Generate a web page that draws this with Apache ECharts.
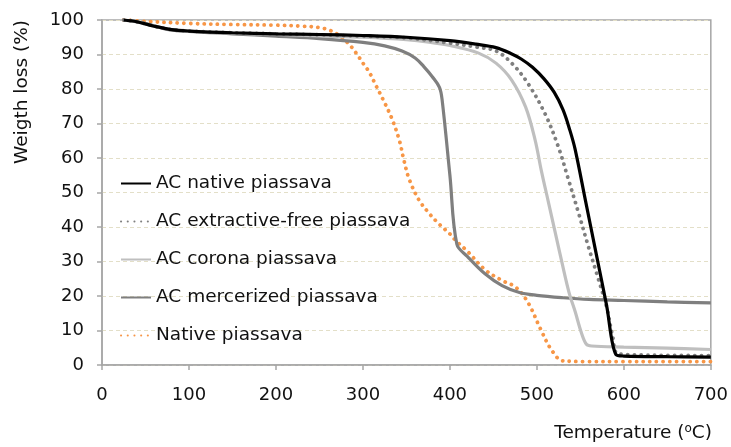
<!DOCTYPE html>
<html>
<head>
<meta charset="utf-8">
<script src="https://cdn.jsdelivr.net/npm/echarts@6/dist/echarts.min.js"></script>
<style>html,body{margin:0;padding:0;background:#fff;}#c{width:731px;height:447px;}</style>
</head>
<body>
<div id="c"></div>
<script>
const seriesNames = ['AC native piassava','AC extractive-free piassava','AC corona piassava','AC mercerized piassava','Native piassava'];
const xTicks = [0,100,200,300,400,500,600,700];
const yTicks = [0,10,20,30,40,50,60,70,80,90,100];

const acNative = [[25,100],[40,99.5],[60,98.2],[80,97.2],[100,96.8],[150,96.3],[200,96],[250,95.8],[300,95.5],[350,95],[400,94],[430,93],[453,92],[470,90.3],[482,88.7],[495,86.3],[508,83],[520,79],[530,74],[538,68],[544,62.5],[556,47.5],[568,32.5],[580,17.5],[591,3],[600,2.6],[650,2.4],[700,2.3]];
const acExtractiveFree = [[25,100],[40,99.5],[60,98.2],[80,97.2],[100,96.8],[150,96.3],[200,96],[250,95.7],[300,95.3],[350,94.8],[400,93.3],[430,92.2],[453,91],[471,87.5],[490,81.5],[510,72.5],[525,63],[536,54],[548,44],[559,34.5],[570,25.5],[580,17],[587,8.5],[593,3.3],[620,2.9],[650,2.8],[700,2.7]];
const acCorona = [[25,100],[40,99.5],[60,98.2],[80,97.2],[100,96.7],[150,96.2],[200,95.8],[250,95.4],[300,95],[350,94.3],[376,93.6],[400,92.6],[433,90.4],[453,87.5],[471,82.6],[487,74.8],[498,65.2],[505,56.5],[513,47.5],[521,38.5],[529,29.5],[537,21],[544,15.5],[551,9.5],[557,6],[563,5.5],[600,5.2],[650,4.9],[700,4.5]];
const acMercerized = [[25,100],[50,99],[75,97.3],[100,96.7],[150,96],[200,95.3],[250,94.6],[300,93.5],[325,92.5],[345,91],[360,89],[370,86.5],[380,83.5],[388,80.5],[391,77],[400,55],[408,35],[420,31.5],[440,26.5],[460,23],[480,21],[500,20.2],[530,19.5],[560,19],[600,18.7],[650,18.3],[700,18]];
const nativePiassava = [[25,100],[50,99.6],[100,99],[150,98.7],[200,98.5],[230,98.2],[250,97.8],[262,97],[273,95.5],[284,93],[292,90.5],[300,87.5],[307,85],[315,81],[325,76],[334,71],[342,65],[347,59.5],[353,54],[364,48],[376,44],[387,41],[400,38],[407,36],[420,33],[441,27.5],[460,24.5],[476,22.5],[490,18],[505,10],[517,4.3],[530,1.2],[560,1],[600,1],[650,1],[700,1]];

const seriesData = [acNative, acExtractiveFree, acCorona, acMercerized, nativePiassava];
const colors = ['#000000','#7f7f7f','#bfbfbf','#7f7f7f','#f79646'];
const dotted = [false,true,false,false,true];

const chart = echarts.init(document.getElementById('c'), null, {renderer:'canvas'});
const font = '"DejaVu Sans", sans-serif';

chart.setOption({
  animation: false,
  grid: {left:102, right:19, top:20, bottom:82, show:true, borderColor:'#a6a6a6', borderWidth:1.5},
  legend: {
    orient:'vertical', left:115, top:169, itemWidth:30, itemHeight:14, itemGap:19,
    data: seriesNames,
    itemStyle:{opacity:0},
    textStyle:{fontFamily:font, fontSize:18.5, color:'#111'}
  },
  xAxis: {
    type:'value', min:0, max:700, interval:100,
    axisLine:{show:true, lineStyle:{color:'#a6a6a6', width:1.5}},
    axisTick:{show:true, length:5, lineStyle:{color:'#a6a6a6', width:1.5}},
    axisLabel:{fontFamily:font, fontSize:18, color:'#111', margin:21,
      formatter: v => xTicks.includes(v) ? String(v) : ''},
    splitLine:{show:false}
  },
  yAxis: {
    type:'value', min:0, max:100, interval:10,
    axisLine:{show:true, lineStyle:{color:'#a6a6a6', width:1.5}},
    axisTick:{show:true, length:5, lineStyle:{color:'#a6a6a6', width:1.5}},
    axisLabel:{fontFamily:font, fontSize:18, color:'#111', margin:18,
      formatter: v => yTicks.includes(v) ? String(v) : ''},
    splitLine:{show:true, lineStyle:{color:'#e3dfc8', type:[4,3], width:1.2}}
  },
  graphic: [
    {type:'text', x:22, y:92, rotation:Math.PI/2,
      style:{text:'Weigth loss (%)', font:'18.5px '+font, fill:'#111', align:'center', verticalAlign:'middle'}},
    {type:'text', x:712, y:433,
      style:{text:'{n|Temperature (}{s|o}{n|C)}', align:'right', verticalAlign:'middle',
        rich:{n:{fontFamily:font, fontSize:18.5, fill:'#111', color:'#111'},
              s:{fontFamily:font, fontSize:12, fill:'#111', color:'#111', verticalAlign:'top', padding:[0,0,8,0]}}}}
  ],
  series: seriesNames.map((name,i)=>({
    name, type:'line', data: seriesData[i], showSymbol:false, symbol:'none',
    smooth:0.35,
    z: 10 - i,
    color: colors[i],
    lineStyle:{color:colors[i], width: dotted[i] ? 3.8 : 3.2, type: dotted[i] ? [0.1,6.6] : 'solid', cap: dotted[i] ? 'round' : 'butt'}
  }))
});
</script>
</body>
</html>
